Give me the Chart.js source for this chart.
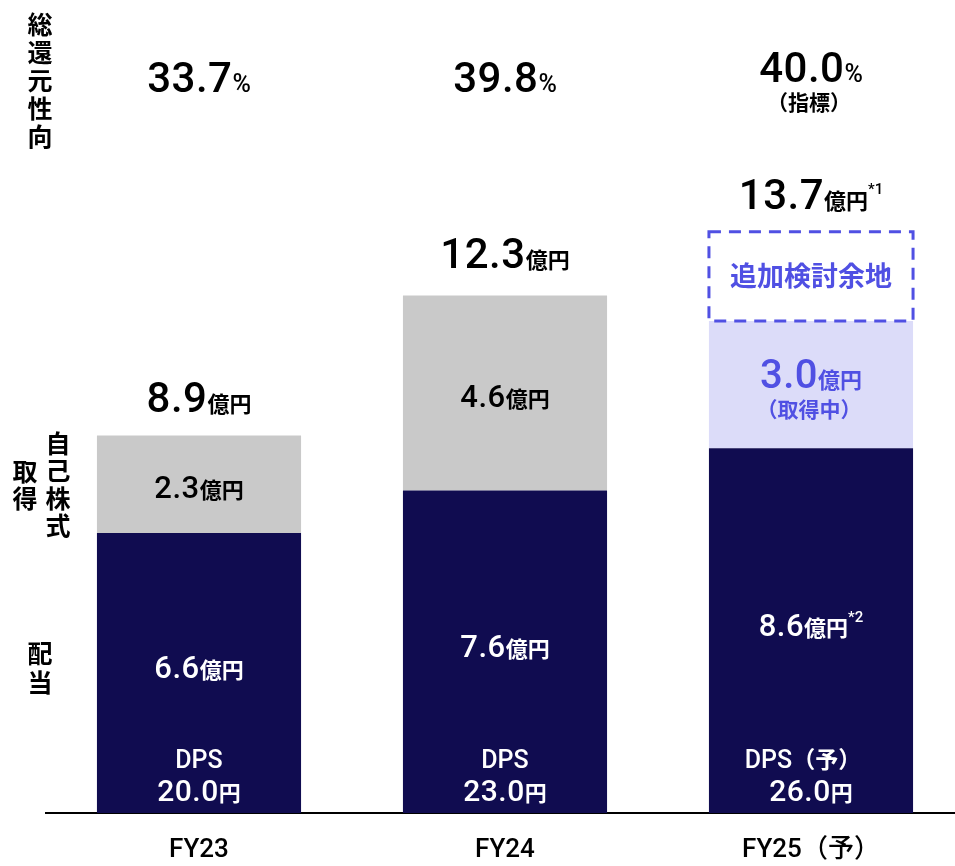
<!DOCTYPE html>
<html lang="ja">
<head>
<meta charset="utf-8">
<title>株主還元</title>
<script src="https://cdn.jsdelivr.net/npm/chart.js@4.4.1/dist/chart.umd.min.js"></script>
<style>
  html, body { margin: 0; padding: 0; background: #fff; overflow: hidden; }
  #wrap { position: relative; width: 964px; height: 866px; }
</style>
</head>
<body>
<div id="wrap"><canvas id="returnChart"></canvas></div>
<script>
// 株主還元の推移（億円）
const categories = ['FY23', 'FY24', 'FY25（予）'];
const dividend = [6.6, 7.6, 8.6];        // 配当
const buyback = [2.3, 4.6, 3.0];         // 自己株式取得
const extraRoom = [null, null, 2.1];     // 追加検討余地
const totals = [8.9, 12.3, 13.7];        // 総還元額
const payoutRatio = ['33.7', '39.8', '40.0'];
const dps = ['20.0', '23.0', '26.0'];

const JP = '"Noto Sans CJK JP", sans-serif';
const NUM = 'Roboto, "Noto Sans CJK JP", sans-serif';
const NAVY = '#100C50';
const GRAY = '#C9C9C9';
const LAVENDER = '#DCDCF9';
const BLUE = '#5050E3';

function jp(size, weight) {
    return (weight || 500) + ' ' + size + 'px ' + JP;
}
function num(size, weight) {
    return (weight || 500) + ' ' + size + 'px ' + NUM;
}

// draw a row of mixed-size text pieces centred on cx
function drawRuns(ctx, runs, cx, y, color) {
    ctx.save();
    ctx.textAlign = 'left';
    ctx.textBaseline = 'alphabetic';
    ctx.fillStyle = color;
    let total = 0;
    runs.forEach(function (r) {
        ctx.font = r.font;
        ctx.letterSpacing = (r.ls || 0) + 'px';
        r.w = ctx.measureText(r.text).width;
        total += r.w;
    });
    let x = cx - total / 2;
    runs.forEach(function (r) {
        ctx.font = r.font;
        ctx.letterSpacing = (r.ls || 0) + 'px';
        ctx.fillText(r.text, x, y + (r.dy || 0));
        x += r.w;
    });
    ctx.restore();
}

function drawVertical(ctx, text, cx, startY, step, f) {
    ctx.save();
    ctx.font = f;
    ctx.fillStyle = '#000';
    ctx.textAlign = 'center';
    ctx.textBaseline = 'middle';
    for (let i = 0; i < text.length; i++) {
        ctx.fillText(text[i], cx, startY + i * step);
    }
    ctx.restore();
}

const labelPlugin = {
    id: 'returnLabels',
    afterDatasetsDraw(chart) {
        const ctx = chart.ctx;
        const yScale = chart.scales.y;
        const divBars = chart.getDatasetMeta(0).data;
        const buyBars = chart.getDatasetMeta(1).data;
        const extraBars = chart.getDatasetMeta(2).data;

        // dashed outline for the undecided part
        extraBars.forEach(function (bar, i) {
            if (extraRoom[i] == null) return;
            const left = bar.x - bar.width / 2;
            ctx.save();
            ctx.strokeStyle = BLUE;
            ctx.lineWidth = 3;
            ctx.setLineDash([12, 8]);
            ctx.strokeRect(left, bar.y, bar.width, bar.base - bar.y);
            ctx.restore();
            drawRuns(ctx, [{ text: '追加検討余地', font: jp(27, 700) }],
                bar.x, (bar.y + bar.base) / 2 + 10, BLUE);
        });

        for (let i = 0; i < categories.length; i++) {
            const cx = divBars[i].x;

            // 総還元性向
            drawRuns(ctx, [
                { text: payoutRatio[i], font: num(42), ls: 0.5 },
                { text: '%', font: num(25) }
            ], cx, i === 2 ? 82 : 92, '#000');
            if (i === 2) {
                drawRuns(ctx, [{ text: '（指標）', font: jp(21, 700) }], cx - 2, 110, '#000');
            }

            // 総還元額
            const topY = yScale.getPixelForValue(totals[i]);
            const totalRuns = [
                { text: totals[i].toFixed(1), font: num(42), ls: 0.5 },
                { text: '億円', font: jp(22, 700) }
            ];
            if (i === 2) totalRuns.push({ text: '*1', font: num(15), dy: -15 });
            drawRuns(ctx, totalRuns, cx, (extraRoom[i] == null ? topY : extraBars[i].y) - 23, '#000');

            // 自己株式取得
            const b = buyBars[i];
            const bMid = (b.y + b.base) / 2;
            if (i === 2) {
                drawRuns(ctx, [
                    { text: buyback[i].toFixed(1), font: num(40), ls: 0.5 },
                    { text: '億円', font: jp(22, 700) }
                ], cx, bMid + 3, BLUE);
                drawRuns(ctx, [{ text: '（取得中）', font: jp(21, 700) }], cx - 2, bMid + 32, BLUE);
            } else {
                drawRuns(ctx, [
                    { text: buyback[i].toFixed(1), font: num(31), ls: 0.5 },
                    { text: '億円', font: jp(22, 700) }
                ], cx, bMid + 14, '#000');
            }

            // 配当
            const d = divBars[i];
            const dMid = (d.y + d.base) / 2;
            const divRuns = [
                { text: dividend[i].toFixed(1), font: num(31), ls: 0.5 },
                { text: '億円', font: jp(22, 700) }
            ];
            if (i === 2) divRuns.push({ text: '*2', font: num(15), dy: -14 });
            drawRuns(ctx, divRuns, cx, dMid + 5, '#fff');

            // DPS
            drawRuns(ctx, [
                { text: 'DPS', font: num(25) },
                { text: i === 2 ? '（予）' : '', font: jp(23, 700) }
            ], cx - (i === 2 ? 8 : 0), d.base - 45, '#fff');
            drawRuns(ctx, [
                { text: dps[i], font: num(30), ls: 0.5 },
                { text: '円', font: jp(22, 700) }
            ], cx, d.base - 12, '#fff');
        }
    },
    afterDraw(chart) {
        const ctx = chart.ctx;
        drawVertical(ctx, '総還元性向', 40, 24, 28, jp(25, 700));
        drawVertical(ctx, '自己株式', 58, 443, 27.5, jp(25, 700));
        drawVertical(ctx, '取得', 25, 471, 27.5, jp(25, 700));
        drawVertical(ctx, '配当', 40, 653, 29, jp(25, 700));
    }
};

new Chart(document.getElementById('returnChart'), {
    type: 'bar',
    data: {
        labels: categories,
        datasets: [
            {
                label: '配当',
                data: dividend,
                backgroundColor: NAVY,
                borderWidth: 0
            },
            {
                label: '自己株式取得',
                data: buyback,
                backgroundColor: [GRAY, GRAY, LAVENDER],
                borderWidth: 0
            },
            {
                label: '追加検討余地',
                data: extraRoom,
                backgroundColor: 'rgba(0,0,0,0)',
                borderWidth: 0
            }
        ]
    },
    options: {
        responsive: true,
        maintainAspectRatio: false,
        animation: false,
        layout: { padding: { top: 7, left: 46, right: 0, bottom: 0 } },
        datasets: {
            bar: { categoryPercentage: 1, barPercentage: 0.667 }
        },
        plugins: {
            legend: { display: false },
            tooltip: { enabled: false }
        },
        scales: {
            x: {
                stacked: true,
                grid: { display: false, drawTicks: false },
                border: { display: true, color: '#000', width: 2 },
                ticks: {
                    color: '#000',
                    padding: 22,
                    font: { family: NUM, size: 26, weight: 500 }
                },
                afterFit: function (scale) {
                    scale.height = 53; // keeps the baseline at y = 813
                }
            },
            y: {
                stacked: true,
                display: false,
                min: 0,
                max: 19
            }
        }
    },
    plugins: [labelPlugin]
});
</script>
</body>
</html>
